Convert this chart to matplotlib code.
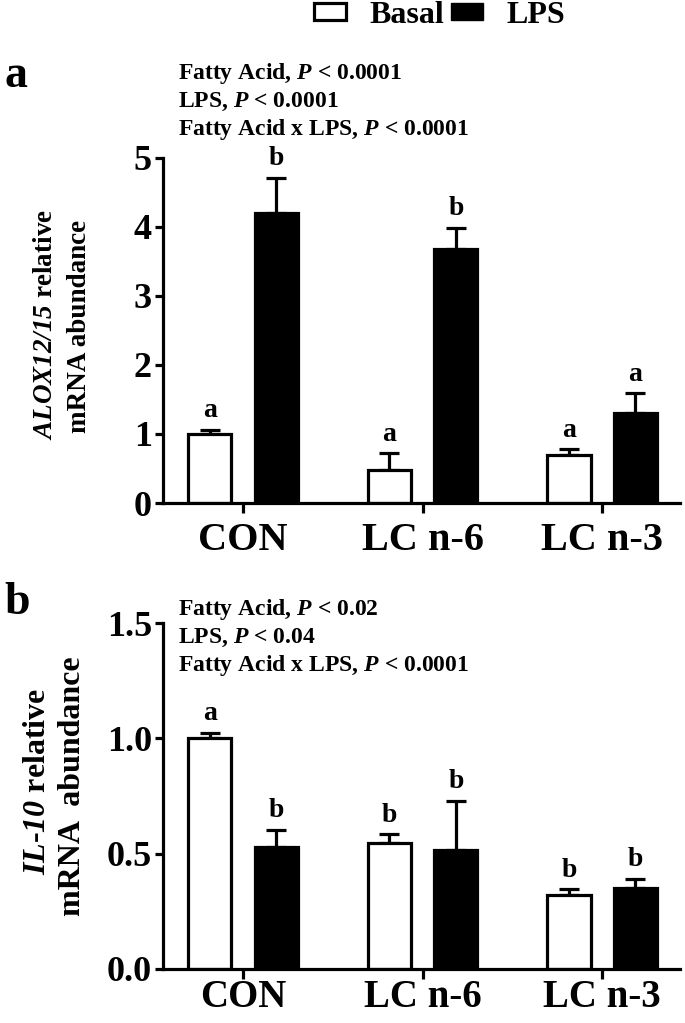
import matplotlib
matplotlib.use("Agg")
import matplotlib.pyplot as plt
import matplotlib.patches as mpatches
import numpy as np

# ── data ──────────────────────────────────────────────────────────────────────
GROUPS = ["CON", "LC n-6", "LC n-3"]

ALOX_BASAL     = [1.00, 0.48, 0.70]
ALOX_BASAL_ERR = [0.06, 0.24, 0.08]
ALOX_LPS       = [4.20, 3.68, 1.30]
ALOX_LPS_ERR   = [0.51, 0.31, 0.29]
ALOX_LET_BASAL = ["a", "a", "a"]
ALOX_LET_LPS   = ["b", "b", "a"]
ALOX_STATS = ["Fatty Acid, $\\mathbfit{P}$ < 0.0001",
              "LPS, $\\mathbfit{P}$ < 0.0001",
              "Fatty Acid x LPS, $\\mathbfit{P}$ < 0.0001"]

IL10_BASAL     = [1.00, 0.545, 0.32]
IL10_BASAL_ERR = [0.024, 0.04, 0.026]
IL10_LPS       = [0.53, 0.515, 0.35]
IL10_LPS_ERR   = [0.073, 0.215, 0.042]
IL10_LET_BASAL = ["a", "b", "b"]
IL10_LET_LPS   = ["b", "b", "b"]
IL10_STATS = ["Fatty Acid, $\\mathbfit{P}$ < 0.02",
              "LPS, $\\mathbfit{P}$ < 0.04",
              "Fatty Acid x LPS, $\\mathbfit{P}$ < 0.0001"]

# ── style ─────────────────────────────────────────────────────────────────────
plt.rcParams["font.family"] = ["Liberation Serif", "DejaVu Serif"]
plt.rcParams["font.weight"] = "bold"
plt.rcParams["mathtext.fontset"] = "custom"
plt.rcParams["mathtext.it"] = "Liberation Serif:italic"
plt.rcParams["mathtext.sf"] = "Liberation Serif:italic"
plt.rcParams["mathtext.bfit"] = "Liberation Serif:italic:bold"
plt.rcParams["mathtext.bf"] = "Liberation Serif:bold"
plt.rcParams["mathtext.rm"] = "Liberation Serif:bold"

LW = 2.3
BAR_W = 0.24
OFF = 0.185

fig = plt.figure(figsize=(6.85, 10.23), dpi=100)
ax_a = fig.add_axes([0.238, 0.5083, 0.755, 0.3373])
ax_b = fig.add_axes([0.238, 0.0528, 0.755, 0.3382])


def draw_panel(ax, basal, basal_err, lps, lps_err, let_b, let_l, ymax, yticks,
               fmt, xpad, xsize):
    x = np.arange(len(GROUPS))
    ax.bar(x - OFF, basal, BAR_W, color="white", edgecolor="black",
           linewidth=LW, zorder=2)
    ax.bar(x + OFF, lps, BAR_W, color="black", edgecolor="black",
           linewidth=LW, zorder=2)
    ax.errorbar(x - OFF, basal, yerr=[np.zeros(3), basal_err], fmt="none",
                ecolor="black", elinewidth=LW, capsize=7, capthick=LW, zorder=1)
    ax.errorbar(x + OFF, lps, yerr=[np.zeros(3), lps_err], fmt="none",
                ecolor="black", elinewidth=LW, capsize=7, capthick=LW, zorder=1)
    for xi, v, e, t in zip(x - OFF, basal, basal_err, let_b):
        ax.annotate(t, (xi, v + e), xytext=(0, 9), textcoords="offset points",
                    ha="center", va="baseline", fontsize=20, fontweight="bold")
    for xi, v, e, t in zip(x + OFF, lps, lps_err, let_l):
        ax.annotate(t, (xi, v + e), xytext=(0, 9), textcoords="offset points",
                    ha="center", va="baseline", fontsize=20, fontweight="bold")
    ax.set_xlim(-0.446, 2.434)
    ax.set_ylim(0, ymax)
    ax.set_yticks(yticks)
    ax.set_yticklabels([fmt.format(t) for t in yticks])
    ax.set_xticks(x)
    ax.set_xticklabels(GROUPS)
    for s in ("top", "right"):
        ax.spines[s].set_visible(False)
    ax.spines["left"].set_linewidth(LW)
    ax.spines["bottom"].set_linewidth(LW)
    ax.spines["left"].set_bounds(0, ymax)
    ax.tick_params(axis="y", length=6, width=LW, labelsize=26, pad=2)
    ax.tick_params(axis="x", length=7, width=LW, labelsize=xsize, pad=xpad)
    for lab in ax.get_xticklabels() + ax.get_yticklabels():
        lab.set_fontweight("bold")


draw_panel(ax_a, ALOX_BASAL, ALOX_BASAL_ERR, ALOX_LPS, ALOX_LPS_ERR,
           ALOX_LET_BASAL, ALOX_LET_LPS, 5, [0, 1, 2, 3, 4, 5], "{:g}", 6.5, 29)
draw_panel(ax_b, IL10_BASAL, IL10_BASAL_ERR, IL10_LPS, IL10_LPS_ERR,
           IL10_LET_BASAL, IL10_LET_LPS, 1.5, [0.0, 0.5, 1.0, 1.5], "{:.1f}", 0, 28)

# stats text
for i, s in enumerate(ALOX_STATS):
    fig.text(178 / 685, 1 - (74 + 28 * i) / 1023, s, fontsize=17,
             fontweight="bold", va="center", ha="left")
for i, s in enumerate(IL10_STATS):
    fig.text(178 / 685, 1 - (610 + 28 * i) / 1023, s, fontsize=17,
             fontweight="bold", va="center", ha="left")

# panel letters
fig.text(4 / 685, 1 - 76 / 1023, "a", fontsize=33, fontweight="bold", va="center")
fig.text(4 / 685, 1 - 603 / 1023, "b", fontsize=33, fontweight="bold", va="center")

# y labels
fig.text(46 / 685, 1 - 325 / 1023, "$\\mathsf{ALOX12/15}$ relative", rotation=90,
         fontsize=19.5, fontweight="bold", ha="center", va="center")
fig.text(80 / 685, 1 - 326 / 1023, "mRNA abundance", rotation=90,
         fontsize=19.5, fontweight="bold", ha="center", va="center")
fig.text(38 / 685, 1 - 781 / 1023, "$\\mathbfit{IL}$-$\\mathbfit{10}$ relative",
         rotation=90, fontsize=23, fontweight="bold", ha="center", va="center")
fig.text(73 / 685, 1 - 786 / 1023, "mRNA  abundance", rotation=90,
         fontsize=23, fontweight="bold", ha="center", va="center")

# legend
handles = [mpatches.Patch(facecolor="white", edgecolor="black", linewidth=LW,
                          label="Basal"),
           mpatches.Patch(facecolor="black", edgecolor="black", label="LPS")]
fig.legend(handles=handles, loc="center", bbox_to_anchor=(0.642, 0.985),
           ncol=2, frameon=False, handlelength=1.0, handleheight=0.45,
           handletextpad=0.75, columnspacing=0.2,
           prop={"weight": "bold", "size": 23})

fig.savefig("out.png", dpi=100)
